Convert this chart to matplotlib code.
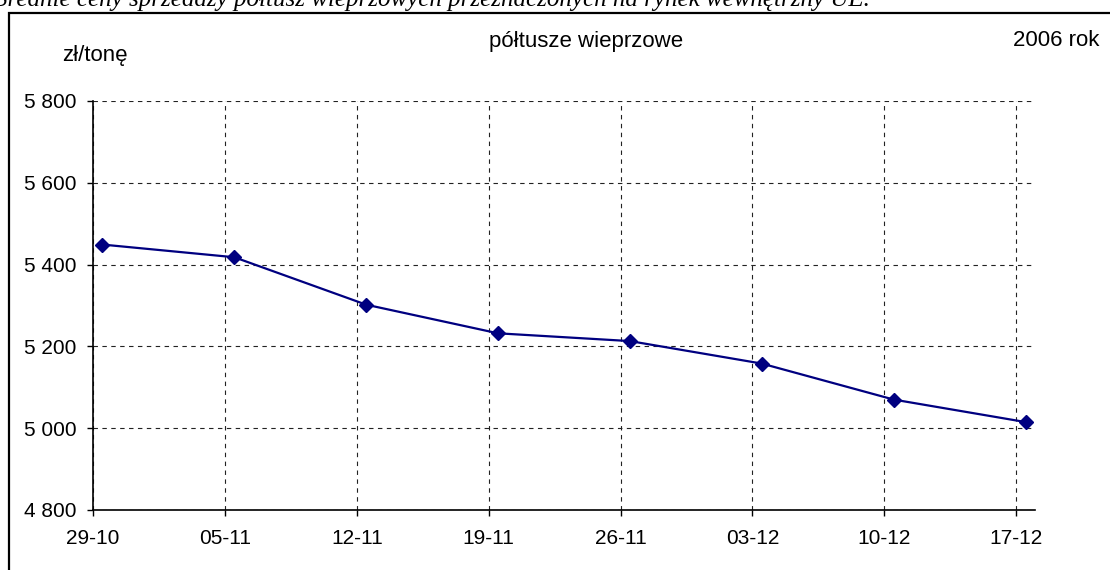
import matplotlib.pyplot as plt
from matplotlib.patches import Rectangle
from matplotlib.ticker import FuncFormatter
import numpy as np

# dane
dates = ['29-10', '05-11', '12-11', '19-11', '26-11', '03-12', '10-12', '17-12']
prices = [5449, 5418, 5302, 5232, 5213, 5158, 5070, 5015]
yticks = [4800, 5000, 5200, 5400, 5600, 5800]

W, H = 1110, 570
plt.rcParams['font.family'] = ['Liberation Sans', 'DejaVu Sans']
fig = plt.figure(figsize=(W / 100, H / 100), dpi=100)

# ramka wokol wykresu
fig.patches.append(Rectangle((9 / W, -0.1), 1.2, 1.1 - 13 / H, transform=fig.transFigure,
                             fill=False, edgecolor='black', linewidth=1.6))

# tytul u gory (uciety jak w oryginale)
fig.text(870 / W, 1 - 6 / H,
         'Średnie ceny sprzedaży półtusz wieprzowych przeznaczonych na rynek wewnętrzny UE.',
         ha='right', va='baseline', fontsize=18, style='italic', family='Liberation Serif')

ax = fig.add_axes([93 / W, 60 / H, (1035 - 93) / W, (510 - 101) / H])
days = np.arange(len(dates)) * 7
ax.plot(days + 0.5, prices, color='#000080', linewidth=1.6, marker='D', markersize=7,
        markerfacecolor='#000080', markeredgecolor='#000080')

ax.set_xlim(0, 50)
ax.set_ylim(4800, 5800)
ax.set_xticks(days)
ax.set_xticklabels(dates)
ax.set_yticks(yticks)
ax.yaxis.set_major_formatter(FuncFormatter(lambda v, p: '{:,.0f}'.format(v).replace(',', ' ')))
ax.grid(True, color='#222222', linestyle=(0, (4, 4)), linewidth=0.8)
ax.set_axisbelow(True)
for s in ['top', 'right']:
    ax.spines[s].set_visible(False)
for s in ['left', 'bottom']:
    ax.spines[s].set_linewidth(1.2)
ax.tick_params(axis='both', direction='out', length=4, width=1, labelsize=15)
ax.tick_params(axis='y', pad=8)
ax.tick_params(axis='x', pad=10)

fig.text(62 / W, 1 - 55 / H, 'zł/tonę', ha='left', va='center', fontsize=16)
fig.text(586 / W, 1 - 42 / H, 'półtusze wieprzowe', ha='center', va='center', fontsize=16)
fig.text(1013 / W, 1 - 40 / H, '2006 rok', ha='left', va='center', fontsize=16)

fig.savefig('out.png', dpi=100)
